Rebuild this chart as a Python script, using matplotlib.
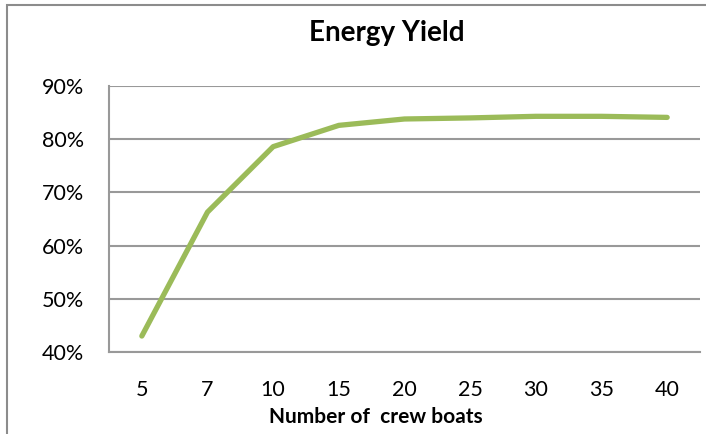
import matplotlib
matplotlib.use("Agg")
import matplotlib.pyplot as plt
from matplotlib.patches import Rectangle
from matplotlib.ticker import FuncFormatter

categories = ["5", "7", "10", "15", "20", "25", "30", "35", "40"]
energy_yield = [0.43, 0.663, 0.786, 0.826, 0.838, 0.840, 0.843, 0.843, 0.841]
y_ticks = [0.4, 0.5, 0.6, 0.7, 0.8, 0.9]

plt.rcParams['font.family'] = ['Lato', 'DejaVu Sans']

W, H = 706, 434
fig = plt.figure(figsize=(W / 100, H / 100), dpi=100)
fig.patch.set_facecolor('white')

# outer chart border
fig.add_artist(Rectangle((7 / W, -0.05), 1.1, (H - 5) / H + 0.05, transform=fig.transFigure,
                         fill=False, edgecolor='#8c8c8c', linewidth=1.5))

ax = fig.add_axes([109 / W, 1 - 352 / H, (700 - 109) / W, (352 - 86) / H])
x = list(range(len(categories)))
ax.plot(x, energy_yield, color='#9BBB59', linewidth=3.8, solid_capstyle='round',
        solid_joinstyle='round', zorder=3)

ax.set_xlim(-0.5, len(categories) - 0.5)
ax.set_ylim(0.4, 0.9)
ax.set_yticks(y_ticks)
ax.yaxis.set_major_formatter(FuncFormatter(lambda v, p: f"{round(v * 100)}%"))
ax.set_xticks(x)
ax.set_xticklabels(categories)
ax.grid(axis='y', color='#999999', linewidth=1.5)
ax.set_axisbelow(True)
for s in ['top', 'right']:
    ax.spines[s].set_visible(False)
for s in ['left', 'bottom']:
    ax.spines[s].set_color('#999999')
    ax.spines[s].set_linewidth(1.5)
ax.tick_params(axis='both', length=0, labelsize=15.5, colors='black')
ax.tick_params(axis='x', pad=20)
ax.tick_params(axis='y', pad=18)

fig.text(376 / W, 1 - 417 / H, "Number of  crew boats", fontsize=15, fontweight='bold',
         ha='center', va='center')
fig.text(387 / W, 1 - 33 / H, "Energy Yield", fontsize=20, fontweight='bold',
         ha='center', va='center')

fig.savefig("out.png", dpi=100)
